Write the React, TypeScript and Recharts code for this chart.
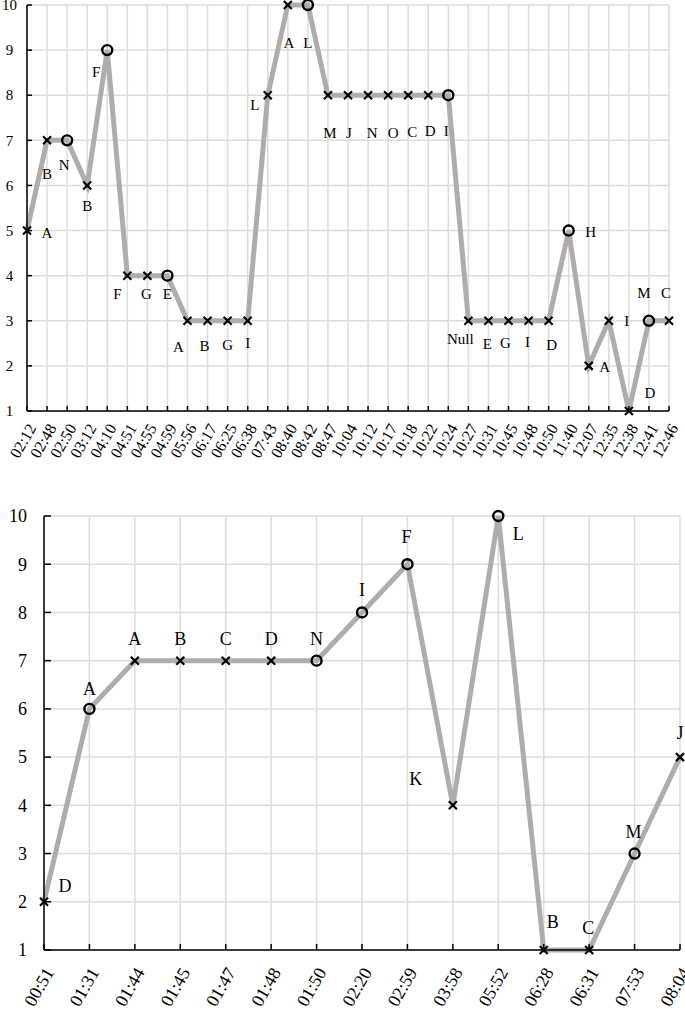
import React from 'react';
import { LineChart, Line, XAxis, YAxis, CartesianGrid } from 'recharts';

// ---------- Top chart data ----------
const topTimes = ['02:12','02:48','02:50','03:12','04:10','04:51','04:55','04:59','05:56','06:17','06:25','06:38','07:43','08:40','08:42','08:47','10:04','10:12','10:17','10:18','10:22','10:24','10:27','10:31','10:45','10:48','10:50','11:40','12:07','12:35','12:38','12:41','12:46'];
const topValues = [5,7,7,6,9,4,4,4,3,3,3,3,8,10,10,8,8,8,8,8,8,8,3,3,3,3,3,5,2,3,1,3,3];
const topMarkers = ['x','x','o','x','o','x','x','o','x','x','x','x','x','x','o','x','x','x','x','x','x','o','x','x','x','x','x','o','x','x','x','o','x'];
const topLabels = ['A','B','N','B','F','F','G','E','A','B','G','I','L','A','L','M','J','N','O','C','D','I','Null','E','G','I','D','H','A','I','D','M','C'];

// ---------- Bottom chart data ----------
const bottomTimes = ['00:51','01:31','01:44','01:45','01:47','01:48','01:50','02:20','02:59','03:58','05:52','06:28','06:31','07:53','08:04'];
const bottomValues = [2,6,7,7,7,7,7,8,9,4,10,1,1,3,5];
const bottomMarkers = ['x','o','x','x','x','x','o','o','o','x','o','x','x','o','x'];
const bottomLabels = ['D','A','A','B','C','D','N','I','F','K','L','B','C','M','J'];

const yTicks = [1,2,3,4,5,6,7,8,9,10];

// label placement (style): offset of label centre from its point
const topLabelOffsets = [[20,2],[0,33],[-3,24],[0,20],[-11,22],[-10,18],[-1,18],[0,18],[-9,26],[-3,25],[0,24],[0,22],[-13,10],[1,38],[0,38],[2,38],[1,38],[4,38],[5,38],[4,37],[2,36],[-2,36],[-8,18],[-1,23],[-3,22],[-1,21],[3,24],[22,1],[16,1],[18,0],[21,-18],[-5,-28],[-3,-28]];
const bottomLabelOffsets = [[21,-16],[0,-20],[0,-22],[0,-22],[0,-22],[0,-22],[0,-22],[0,-23],[-1,-28],[-37,-27],[20,18],[9,-28],[-1,-22],[-1,-22],[0,-24]];

const topData = topTimes.map((t, i) => ({ t, v: topValues[i] }));
const bottomData = bottomTimes.map((t, i) => ({ t, v: bottomValues[i] }));

const FONT = '"Liberation Serif", "Times New Roman", serif';
const LINE_COLOR = '#b0acac';
const GRID_COLOR = '#dcdcdc';

function makeDot(markers: string[], labels: string[], offsets: number[][], fontSize: number, xs: number, r: number) {
  return (p: any) => {
    const { cx, cy, index } = p;
    const m = markers[index];
    const off = offsets[index] || [0, 0];
    return (
      <g key={`d-${index}`}>
        {m === 'x' ? (
          <g stroke="#000" strokeWidth={2.2}>
            <line x1={cx - xs} y1={cy - xs} x2={cx + xs} y2={cy + xs} />
            <line x1={cx - xs} y1={cy + xs} x2={cx + xs} y2={cy - xs} />
          </g>
        ) : (
          <circle cx={cx} cy={cy} r={r} fill="none" stroke="#000" strokeWidth={2.4} />
        )}
        <text x={cx + off[0]} y={cy + off[1]} dy="0.35em" textAnchor="middle" fontFamily={FONT} fontSize={fontSize} fill="#000">
          {labels[index]}
        </text>
      </g>
    );
  };
}

function makeXTick(fontSize: number, dx: number, dy: number, tickLen: number) {
  return (p: any) => {
    const { x, y, payload } = p;
    const ax = x + dx;
    const ay = y + dy;
    return (
      <g>
        <line x1={x} x2={x} y1={y} y2={y - tickLen} stroke="#000" strokeWidth={1.5} />
        <text x={ax} y={ay} dy="0.35em" textAnchor="end" transform={`rotate(-60 ${ax} ${ay})`} fontFamily={FONT} fontSize={fontSize} fill="#000">
          {payload.value}
        </text>
      </g>
    );
  };
}

function makeYTick(fontSize: number, textX: (x: number) => number, anchor: string, tickLen: number) {
  return (p: any) => {
    const { x, y, payload } = p;
    return (
      <g>
        <line x1={x} x2={x + tickLen} y1={y} y2={y} stroke="#000" strokeWidth={1.5} />
        <text x={textX(x)} y={y} dy="0.35em" textAnchor={anchor} fontFamily={FONT} fontSize={fontSize} fill="#000">
          {payload.value}
        </text>
      </g>
    );
  };
}

export default function App() {
  return (
    <div style={{ position: 'absolute', left: 0, top: 0, width: 685, height: 1010, background: '#fff', overflow: 'hidden' }}>
      <div style={{ position: 'absolute', left: 0, top: 0 }}>
        <LineChart width={685} height={470} data={topData} margin={{ top: 5, right: 16, bottom: 0, left: 0 }}>
          <CartesianGrid stroke={GRID_COLOR} strokeWidth={1.5} />
          <XAxis
            dataKey="t"
            type="category"
            scale="point"
            padding={{ left: 0, right: 0 }}
            interval={0}
            height={59}
            tickSize={0}
            tickMargin={0}
            tickLine={false}
            axisLine={{ stroke: '#000', strokeWidth: 1.5 }}
            tick={makeXTick(16, 5, 14, 5)}
          />
          <YAxis
            domain={[1, 10]}
            ticks={yTicks}
            type="number"
            width={27}
            interval={0}
            tickSize={0}
            tickMargin={0}
            tickLine={false}
            axisLine={{ stroke: '#000', strokeWidth: 1.5 }}
            tick={makeYTick(15, () => 9.5, 'middle', 5)}
          />
          <Line
            dataKey="v"
            stroke={LINE_COLOR}
            strokeWidth={5}
            isAnimationActive={false}
            dot={makeDot(topMarkers, topLabels, topLabelOffsets, 15, 4, 5)}
            activeDot={false}
          />
        </LineChart>
      </div>
      <div style={{ position: 'absolute', left: 0, top: 500 }}>
        <LineChart width={685} height={510} data={bottomData} margin={{ top: 16, right: 5, bottom: 0, left: 0 }}>
          <CartesianGrid stroke={GRID_COLOR} strokeWidth={1.5} />
          <XAxis
            dataKey="t"
            type="category"
            scale="point"
            padding={{ left: 0, right: 0 }}
            interval={0}
            height={60}
            tickSize={0}
            tickMargin={0}
            tickLine={false}
            axisLine={{ stroke: '#000', strokeWidth: 1.5 }}
            tick={makeXTick(18, 5, 19, 6)}
          />
          <YAxis
            domain={[1, 10]}
            ticks={yTicks}
            type="number"
            width={44}
            interval={0}
            tickSize={0}
            tickMargin={0}
            tickLine={false}
            axisLine={{ stroke: '#000', strokeWidth: 1.5 }}
            tick={makeYTick(18, (x) => x - 17, 'end', 7)}
          />
          <Line
            dataKey="v"
            stroke={LINE_COLOR}
            strokeWidth={5}
            isAnimationActive={false}
            dot={makeDot(bottomMarkers, bottomLabels, bottomLabelOffsets, 18, 4, 5)}
            activeDot={false}
          />
        </LineChart>
      </div>
    </div>
  );
}
